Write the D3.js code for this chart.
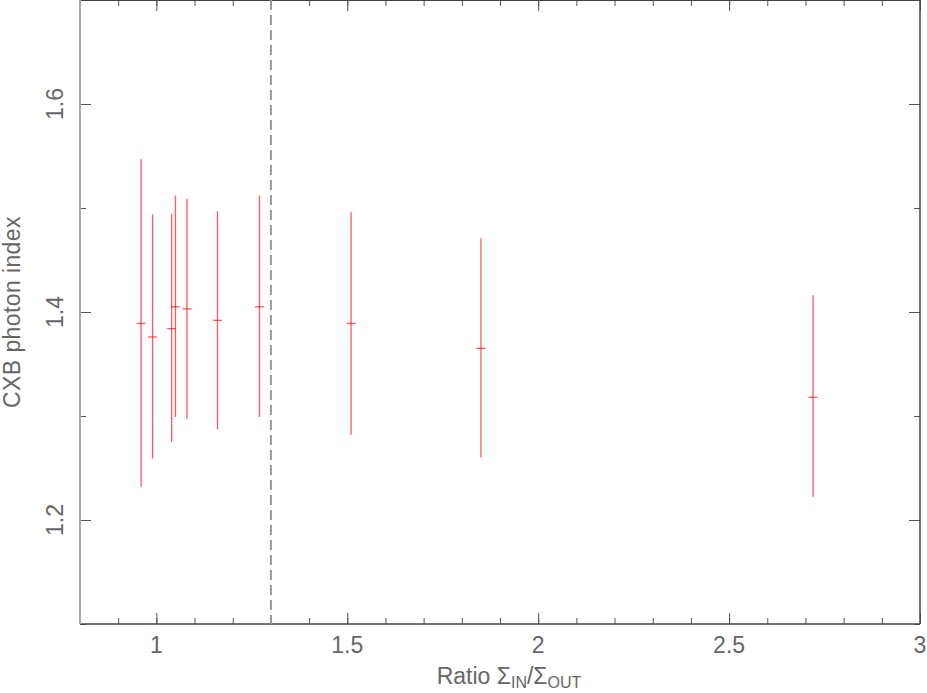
<!DOCTYPE html>
<html>
<head>
<meta charset="utf-8">
<script src="https://cdn.jsdelivr.net/npm/d3@7"></script>
<style>
  body { margin: 0; background: #fff; }
  svg text { font-family: 'Liberation Sans', Arial, sans-serif; fill: #666; }
</style>
</head>
<body>
<div id="chart"></div>
<script>
// ratio of surface brightness inside / outside
const ratio = [0.96, 0.99, 1.04, 1.05, 1.08, 1.16, 1.27, 1.51, 1.85, 2.72];
// CXB photon index and its error range
const photonIndex = [1.389, 1.376, 1.384, 1.405, 1.403, 1.392, 1.405, 1.389, 1.365, 1.318];
const indexLow = [1.232, 1.259, 1.275, 1.299, 1.297, 1.287, 1.299, 1.282, 1.260, 1.222];
const indexHigh = [1.547, 1.494, 1.494, 1.512, 1.509, 1.497, 1.512, 1.496, 1.471, 1.416];

const xMajor = [1, 1.5, 2, 2.5, 3];
const xMinor = d3.range(9, 30).map((d) => d / 10);
const yMajor = [1.2, 1.4, 1.6];
const yMinor = [1.1, 1.2, 1.3, 1.4, 1.5, 1.6, 1.7];
const cutRatio = 1.3;

const width = 927;
const height = 693;
const margin = { top: 0, right: 7, bottom: 69, left: 80 };

const points = ratio.map((r, i) => ({
  ratio: r,
  index: photonIndex[i],
  low: indexLow[i],
  high: indexHigh[i],
}));

const svg = d3
  .select('#chart')
  .append('svg')
  .attr('width', width)
  .attr('height', height);

const xScale = d3.scaleLinear().domain([0.8, 3]).range([margin.left, width - margin.right]);
const yScale = d3.scaleLinear().domain([1.1, 1.7]).range([height - margin.bottom, margin.top]);

const plotLeft = margin.left;
const plotRight = width - margin.right;
const plotTop = margin.top;
const plotBottom = height - margin.bottom;

// ticks on all four sides, pointing inwards
function addAxis(axis, tx, ty) {
  const g = svg.append('g').attr('transform', `translate(${tx}, ${ty})`).call(axis);
  g.select('.domain').remove();
  g.selectAll('line').attr('stroke', '#555');
  return g;
}

addAxis(d3.axisBottom(xScale).tickValues(xMinor).tickSize(-6).tickFormat(''), 0, plotBottom);
addAxis(d3.axisBottom(xScale).tickValues(xMajor).tickSize(-11).tickFormat(''), 0, plotBottom);
addAxis(d3.axisTop(xScale).tickValues(xMinor).tickSize(-6).tickFormat(''), 0, plotTop);
addAxis(d3.axisTop(xScale).tickValues(xMajor).tickSize(-11).tickFormat(''), 0, plotTop);
addAxis(d3.axisLeft(yScale).tickValues(yMinor).tickSize(-6).tickFormat(''), plotLeft, 0);
addAxis(d3.axisLeft(yScale).tickValues(yMajor).tickSize(-11).tickFormat(''), plotLeft, 0);
addAxis(d3.axisRight(yScale).tickValues(yMinor).tickSize(-6).tickFormat(''), plotRight, 0);
addAxis(d3.axisRight(yScale).tickValues(yMajor).tickSize(-11).tickFormat(''), plotRight, 0);

// frame
svg.append('line').attr('x1', plotLeft).attr('x2', plotRight).attr('y1', plotTop + 0.5).attr('y2', plotTop + 0.5)
  .attr('stroke', '#444');
svg.append('line').attr('x1', plotLeft).attr('x2', plotRight).attr('y1', plotBottom).attr('y2', plotBottom)
  .attr('stroke', '#444').attr('stroke-width', 1.5);
svg.append('line').attr('x1', plotRight).attr('x2', plotRight).attr('y1', plotTop).attr('y2', plotBottom)
  .attr('stroke', '#444').attr('stroke-width', 1.5);
svg.append('line').attr('x1', plotLeft).attr('x2', plotLeft).attr('y1', plotTop).attr('y2', plotBottom)
  .attr('stroke', '#aaa').attr('stroke-width', 2);

// tick labels
svg.append('g')
  .selectAll('text')
  .data(xMajor)
  .join('text')
  .attr('x', (d) => xScale(d))
  .attr('y', 653)
  .attr('text-anchor', 'middle')
  .attr('font-size', 23)
  .text((d) => d);

svg.append('g')
  .selectAll('text')
  .data(yMajor)
  .join('text')
  .attr('transform', (d) => `translate(63, ${yScale(d)}) rotate(-90)`)
  .attr('text-anchor', 'middle')
  .attr('font-size', 23)
  .text((d) => d.toFixed(1));

// axis titles
const xTitle = svg.append('text')
  .attr('x', 509)
  .attr('y', 684)
  .attr('text-anchor', 'middle')
  .attr('font-size', 23);
xTitle.append('tspan').text('Ratio Σ');
xTitle.append('tspan').attr('dy', 4).attr('font-size', 16).text('IN');
xTitle.append('tspan').attr('dy', -4).text('/Σ');
xTitle.append('tspan').attr('dy', 4).attr('font-size', 16).text('OUT');

svg.append('text')
  .attr('transform', `translate(20, ${(plotTop + plotBottom) / 2}) rotate(-90)`)
  .attr('text-anchor', 'middle')
  .attr('font-size', 23)
  .attr('letter-spacing', 0.4)
  .text('CXB photon index');

// dashed cut line
svg.append('line')
  .attr('x1', xScale(cutRatio))
  .attr('x2', xScale(cutRatio))
  .attr('y1', plotTop)
  .attr('y2', plotBottom)
  .attr('stroke', '#999')
  .attr('stroke-width', 2)
  .attr('stroke-dasharray', '10,5');

// error bars
const bars = svg.append('g').attr('stroke', 'red').attr('stroke-opacity', 0.65).attr('stroke-width', 1.3);

bars.selectAll('.err')
  .data(points)
  .join('line')
  .attr('class', 'err')
  .attr('x1', (d) => xScale(d.ratio))
  .attr('x2', (d) => xScale(d.ratio))
  .attr('y1', (d) => yScale(d.low))
  .attr('y2', (d) => yScale(d.high));

bars.selectAll('.cap')
  .data(points)
  .join('line')
  .attr('class', 'cap')
  .attr('x1', (d) => xScale(d.ratio) - 4.5)
  .attr('x2', (d) => xScale(d.ratio) + 4.5)
  .attr('y1', (d) => yScale(d.index))
  .attr('y2', (d) => yScale(d.index));
</script>
</body>
</html>
